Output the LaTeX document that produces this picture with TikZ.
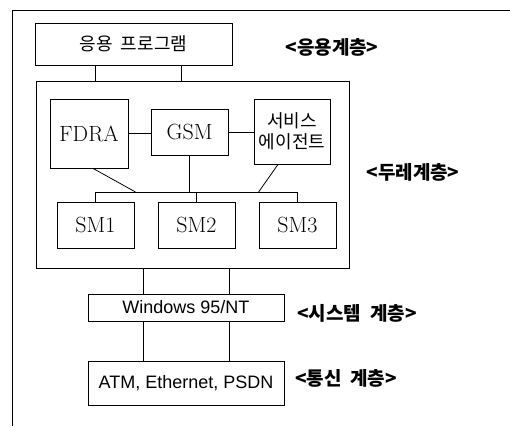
\documentclass[tikz,border=0pt]{standalone}
\usepackage{fontspec}
\newfontfamily\kor{Noto Sans CJK KR}
\newfontfamily\arial{Liberation Sans}
\begin{document}
\begin{tikzpicture}[x=1pt,y=-1pt,line width=.8pt,
  box/.style={draw,inner sep=0pt,minimum width=#1},
  ser/.style={font=\fontsize{22}{24}\selectfont},
  han/.style={font=\kor\fontsize{18}{21}\selectfont},
  lay/.style={font=\kor\bfseries\fontsize{19}{21}\selectfont}]
\useasboundingbox (0,0) rectangle (510,426);
\draw (12,426)--(12,10)--(510,10);
\node[box=197,minimum height=42,han] (app) at (133.5,44) {응용 \ 프로그램};
\node[box=313,minimum height=187] (dure) at (192.5,174.5) {};
\node[box=78,minimum height=69,ser] (fdra) at (89,133.5) {FDRA};
\node[box=77,minimum height=46,ser] (gsm) at (189.5,132) {GSM};
\node[box=76,minimum height=65,han,align=center] (svc) at (292,131.5) {서비스\\에이전트};
\foreach \i/\x in {1/95.5,2/196.5,3/297.5}
  \node[box=77,minimum height=46,ser] (sm\i) at (\x,225) {SM\i};
\node[box=196,minimum height=27,font=\arial\fontsize{18}{20}\selectfont] (win) at (186,307.5) {Windows 95/NT};
\node[box=196,minimum height=44,font=\arial\fontsize{18}{20}\selectfont] (atm) at (186,383) {ATM, Ethernet, PSDN};
\node[lay] (l1) at (332,47) {<응용계층>};
\node[lay] (l2) at (413,172) {<두레계층>};
\node[lay] (l3) at (357,313) {<시스템 \ 계층>};
\node[lay] (l4) at (346,378) {<통신 \ 계층>};
\coordinate (bus) at (0,192);
\foreach \dx in {-38.5,47.5}
  \draw ([xshift=\dx]app.south)--([xshift=\dx]app.south |- dure.north);
\draw (fdra.east)--(fdra.east -| gsm.west);
\draw (gsm.east)--(gsm.east -| svc.west);
\draw (sm1.north |- bus)--(sm3.north |- bus);
\foreach \i in {1,2,3}
  \draw (sm\i.north |- bus)--(sm\i.north);
\draw ([xshift=4]fdra.south)--([xshift=40]sm1.north |- bus);
\draw (gsm.south)--(gsm.south |- bus);
\draw ([xshift=-14]svc.south)--(sm3.north west |- bus);
\foreach \dx in {-43,43}{
  \draw ([xshift=\dx]win.north)--([xshift=\dx]win.north |- dure.south);
  \draw ([xshift=\dx]win.south)--([xshift=\dx]atm.north);
}
\end{tikzpicture}
\end{document}
